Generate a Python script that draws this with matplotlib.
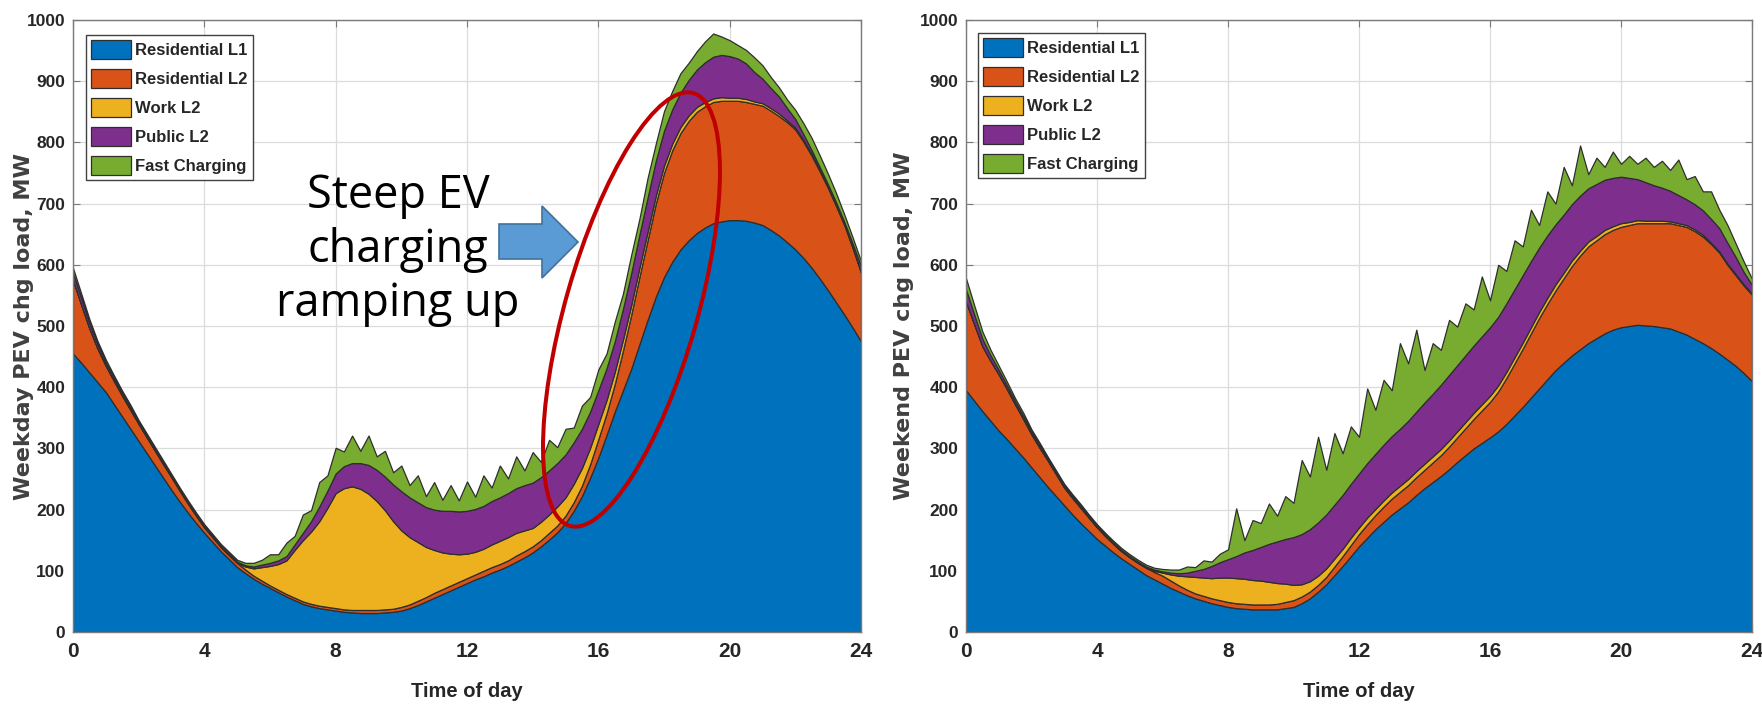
#!/usr/bin/env python3
"""Weekday / weekend PEV charging load, stacked by charger type."""

import numpy as np
import matplotlib
matplotlib.use('Agg')
import matplotlib.pyplot as plt
import matplotlib.patches as mpatches

# MATLAB-like palette
COLORS = ['#0072BD', '#D95319', '#EDB120', '#7E2F8E', '#77AC30']
EDGE = '#2e2e2e'
TEXT = '#262626'
GRID = '#dcdcdc'

SERIES = ['Residential L1', 'Residential L2', 'Work L2', 'Public L2', 'Fast Charging']

# time of day, 15 minute steps
hours = np.linspace(0, 24, 97)
x_ticks = [0, 4, 8, 12, 16, 20, 24]
y_ticks = [0, 100, 200, 300, 400, 500, 600, 700, 800, 900, 1000]

# ---- weekday loads, MW ----
weekday_res_l1 = [
    455, 440, 424, 408, 392,
    372, 352, 332, 312,
    292, 272, 252, 232, 213, 195, 178, 162,
    147, 132, 119, 106, 96, 87, 79, 72,
    65, 58, 52, 46, 42, 39, 37, 35,
    33, 32, 31, 31, 31, 32, 33, 35,
    39, 44, 50, 56, 62, 68, 74, 80,
    86, 91, 97, 102, 108, 115, 122, 130,
    140, 151, 163, 178, 198, 222, 252, 285,
    322, 360, 395, 430, 470, 510, 548, 580,
    605, 625, 640, 652, 661, 668, 671, 673,
    673, 672, 669, 665, 657, 648, 637, 625,
    611, 595, 577, 558, 538, 518, 497, 475,
]
weekday_res_l2 = [
    120, 95, 72, 55, 43,
    38, 34, 31, 28,
    26, 24, 22, 21, 18, 15, 12, 9,
    8, 7, 7, 7, 6, 5, 5, 4,
    4, 4, 4, 4, 4, 4, 4, 4,
    4, 4, 5, 5, 5, 5, 5, 6,
    6, 7, 7, 8, 8, 8, 8, 8,
    8, 9, 9, 9, 9, 10, 10, 10,
    10, 11, 11, 12, 14, 17, 22, 30,
    35, 45, 65, 88, 110, 130, 152, 170,
    182, 190, 195, 198, 198, 198, 197, 195,
    195, 194, 194, 195, 195, 195, 196, 196,
    190, 183, 175, 167, 157, 146, 130, 112,
]
weekday_work_l2 = [
    0, 0, 0, 0, 0,
    0, 0, 0, 0,
    0, 0, 0, 0, 0, 0, 0, 0,
    0, 0, 0, 0, 5, 12, 22, 32,
    42, 55, 78, 100, 118, 138, 162, 188,
    198, 202, 198, 190, 178, 162, 143, 125,
    110, 96, 82, 70, 60, 52, 45, 40,
    37, 36, 37, 38, 38, 37, 34, 30,
    30, 30, 31, 30, 30, 29, 27, 25,
    22, 20, 18, 16, 15, 14, 13, 12,
    11, 10, 9, 8, 7, 6, 6, 5,
    5, 5, 4, 4, 4, 4, 3, 3,
    3, 3, 2, 2, 2, 1, 1, 1,
]
weekday_public_l2 = [
    12, 11, 9, 7, 5,
    5, 4, 4, 3,
    3, 3, 3, 2, 2, 2, 2, 2,
    2, 2, 2, 2, 2, 3, 4, 5,
    6, 7, 9, 12, 17, 24, 28, 32,
    36, 38, 42, 47, 51, 55, 60, 64,
    65, 65, 65, 66, 68, 70, 70, 70,
    70, 70, 71, 71, 72, 73, 74, 74,
    73, 72, 71, 70, 68, 64, 59, 55,
    52, 50, 50, 52, 54, 56, 57, 57,
    56, 56, 58, 61, 65, 68, 69, 68,
    64, 58, 48, 40, 33, 28, 20, 14,
    9, 6, 5, 4, 4, 4, 6, 10,
]
weekday_fast = [
    8, 7, 6, 5, 5,
    4, 4, 4, 3,
    3, 3, 3, 3, 3, 3, 3, 3,
    3, 3, 3, 3, 4, 6, 8, 14,
    10, 22, 14, 30, 18, 40, 25, 42,
    24, 45, 20, 48, 22, 42, 20, 42,
    20, 44, 18, 45, 18, 42, 18, 48,
    20, 50, 22, 52, 24, 52, 24, 50,
    25, 50, 26, 42, 24, 38, 24, 34,
    24, 32, 25, 30, 26, 32, 28, 32,
    30, 32, 28, 30, 34, 38, 30, 26,
    22, 22, 24, 22, 18, 15, 14, 15,
    18, 20, 19, 17, 15, 12, 10, 8,
]

# ---- weekend loads, MW ----
weekend_res_l1 = [
    395, 378, 361, 345, 329,
    315, 300, 285, 269,
    253, 237, 222, 207, 192, 178, 165, 152,
    141, 130, 120, 111, 102, 93, 86, 79,
    72, 66, 60, 55, 51, 47, 44, 41,
    39, 38, 37, 37, 37, 37, 39, 41,
    47, 55, 66, 78, 93, 108, 124, 140,
    154, 168, 180, 192, 202, 212, 224, 235,
    245, 255, 266, 278, 289, 300, 309, 318,
    328, 340, 354, 368, 383, 398, 413, 428,
    440, 452, 462, 472, 480, 488, 494, 498,
    500, 502, 501, 500, 498, 496, 491, 486,
    479, 472, 464, 455, 445, 435, 423, 410,
]
weekend_res_l2 = [
    145, 125, 106, 98, 92,
    82, 72, 63, 54,
    48, 43, 36, 29, 27, 25, 22, 19,
    16, 14, 12, 11, 11, 12, 12, 13,
    12, 10, 9, 8, 8, 8, 8, 8,
    8, 8, 8, 8, 8, 9, 10, 11,
    11, 11, 11, 12, 14, 16, 18, 20,
    22, 23, 25, 26, 27, 28, 29, 30,
    32, 34, 37, 40, 44, 48, 53, 58,
    65, 75, 85, 95, 105, 115, 123, 130,
    138, 146, 153, 158, 160, 162, 163, 164,
    165, 166, 167, 168, 170, 172, 174, 176,
    176, 174, 170, 165, 155, 148, 143, 141,
]
weekend_work_l2 = [
    0, 0, 0, 0, 0,
    0, 0, 0, 0,
    0, 0, 0, 0, 0, 0, 0, 0,
    0, 0, 0, 0, 0, 0, 2, 5,
    10, 16, 22, 27, 30, 33, 37, 40,
    41, 41, 40, 39, 37, 34, 30, 25,
    20, 17, 15, 14, 13, 12, 12, 11,
    11, 10, 10, 10, 10, 10, 10, 10,
    10, 10, 10, 10, 10, 10, 10, 10,
    10, 10, 10, 10, 10, 10, 10, 10,
    9, 9, 8, 8, 7, 7, 6, 6,
    5, 5, 4, 4, 4, 3, 3, 3,
    3, 3, 2, 2, 2, 2, 2, 2,
]
weekend_public_l2 = [
    20, 16, 12, 9, 7,
    6, 5, 5, 4,
    4, 3, 3, 3, 3, 3, 2, 2,
    2, 2, 2, 2, 2, 2, 2, 2,
    3, 4, 6, 10, 14, 20, 25, 30,
    36, 43, 49, 55, 62, 68, 73, 78,
    82, 85, 87, 88, 88, 88, 88, 88,
    89, 90, 91, 92, 93, 95, 97, 100,
    102, 105, 107, 108, 109, 110, 111, 112,
    112, 112, 111, 110, 108, 105, 102, 98,
    95, 92, 90, 87, 85, 82, 79, 76,
    72, 67, 63, 58, 54, 50, 46, 42,
    41, 40, 39, 38, 34, 28, 20, 14,
]
weekend_fast = [
    18, 15, 12, 9, 7,
    6, 5, 5, 4,
    4, 3, 3, 3, 3, 3, 3, 3,
    3, 3, 3, 3, 3, 3, 3, 4,
    5, 6, 10, 6, 14, 7, 14, 16,
    78, 20, 49, 39, 66, 42, 70, 56,
    121, 86, 140, 73, 117, 68, 94, 60,
    122, 72, 106, 75, 140, 94, 134, 53,
    83, 57, 90, 63, 85, 59, 98, 44,
    85, 53, 80, 47, 84, 37, 72, 34,
    78, 31, 82, 23, 43, 21, 43, 21,
    36, 25, 40, 30, 44, 34, 58, 33,
    46, 31, 45, 30, 29, 22, 17, 10,
]

ARIAL = ['Liberation Sans', 'DejaVu Sans']


def draw_panel(ax, layers, ylabel, ylabel_x, legend_anchor):
    ax.stackplot(hours, *layers, colors=COLORS, labels=SERIES,
                 edgecolor=EDGE, linewidth=0.9)
    ax.set_xlim(0, 24)
    ax.set_ylim(0, 1000)
    ax.set_xticks(x_ticks)
    ax.set_yticks(y_ticks)
    ax.set_axisbelow(True)
    ax.grid(True, color=GRID, linewidth=0.9)
    for sp in ax.spines.values():
        sp.set_color('#7a7a7a')
        sp.set_linewidth(1.0)
    ax.tick_params(direction='in', top=True, right=True, length=5,
                   width=0.8, colors='#7a7a7a')
    ax.tick_params(axis='x', pad=7.5, labelcolor=TEXT)
    ax.tick_params(axis='y', pad=5.5, labelcolor=TEXT)
    for lab in ax.get_xticklabels():
        lab.set_fontfamily(ARIAL)
        lab.set_fontweight('bold')
        lab.set_fontsize(15)
    for lab in ax.get_yticklabels():
        lab.set_fontfamily(ARIAL)
        lab.set_fontweight('bold')
        lab.set_fontsize(12.5)

    ax.set_xlabel('Time of day', fontsize=14.5, fontweight='bold',
                  family=ARIAL, color=TEXT, va='center')
    ax.xaxis.set_label_coords(0.5, -0.098)
    ax.set_ylabel(ylabel, fontsize=16, fontweight='bold',
                  family=['DejaVu Sans'], color='#404040', va='center')
    ax.yaxis.set_label_coords(ylabel_x, 0.5)

    leg = ax.legend(loc='upper left', bbox_to_anchor=legend_anchor,
                    borderaxespad=0, fancybox=False, framealpha=1,
                    edgecolor='#404040', handlelength=2.4, handleheight=1.35,
                    handletextpad=0.25, labelspacing=0.62, borderpad=0.3,
                    prop={'family': ARIAL, 'weight': 'bold', 'size': 12})
    leg.get_frame().set_linewidth(1.0)
    for t in leg.get_texts():
        t.set_color(TEXT)


def generate():
    fig = plt.figure(figsize=(17.62, 7.05), dpi=100)
    fig.patch.set_facecolor('white')

    W, H = 1762.0, 705.0
    ax1 = fig.add_axes([73 / W, (H - 632) / H, 788 / W, 612 / H])
    ax2 = fig.add_axes([966 / W, (H - 632) / H, 786 / W, 612 / H])

    draw_panel(ax1, [weekday_res_l1, weekday_res_l2, weekday_work_l2,
                     weekday_public_l2, weekday_fast],
               'Weekday PEV chg load, MW', -0.062, (0.0165, 0.9755))
    draw_panel(ax2, [weekend_res_l1, weekend_res_l2, weekend_work_l2,
                     weekend_public_l2, weekend_fast],
               'Weekend PEV chg load, MW', -0.079, (0.0153, 0.979))

    # annotation layer in pixel coordinates
    ov = fig.add_axes([0, 0, 1, 1], zorder=10)
    ov.set_xlim(0, W)
    ov.set_ylim(H, 0)
    ov.axis('off')
    ov.patch.set_alpha(0)

    ov.text(398, 250, 'Steep EV\ncharging\nramping up', fontsize=32.5,
            family=['Open Sans', 'DejaVu Sans'], color='black',
            ha='center', va='center', multialignment='center',
            linespacing=1.24)

    arrow = mpatches.Polygon(
        [(499, 224), (542, 224), (542, 206), (578, 242),
         (542, 278), (542, 259), (499, 259)],
        closed=True, facecolor='#5B9BD5', edgecolor='#41719C', linewidth=1.2)
    ov.add_patch(arrow)

    ring = mpatches.Ellipse((631.5, 309.5), width=450, height=132, angle=-74.1,
                            fill=False, edgecolor='#C00000', linewidth=2.9)
    ov.add_patch(ring)

    fig.savefig('out.png', dpi=100, facecolor='white')
    plt.close(fig)


if __name__ == '__main__':
    generate()
